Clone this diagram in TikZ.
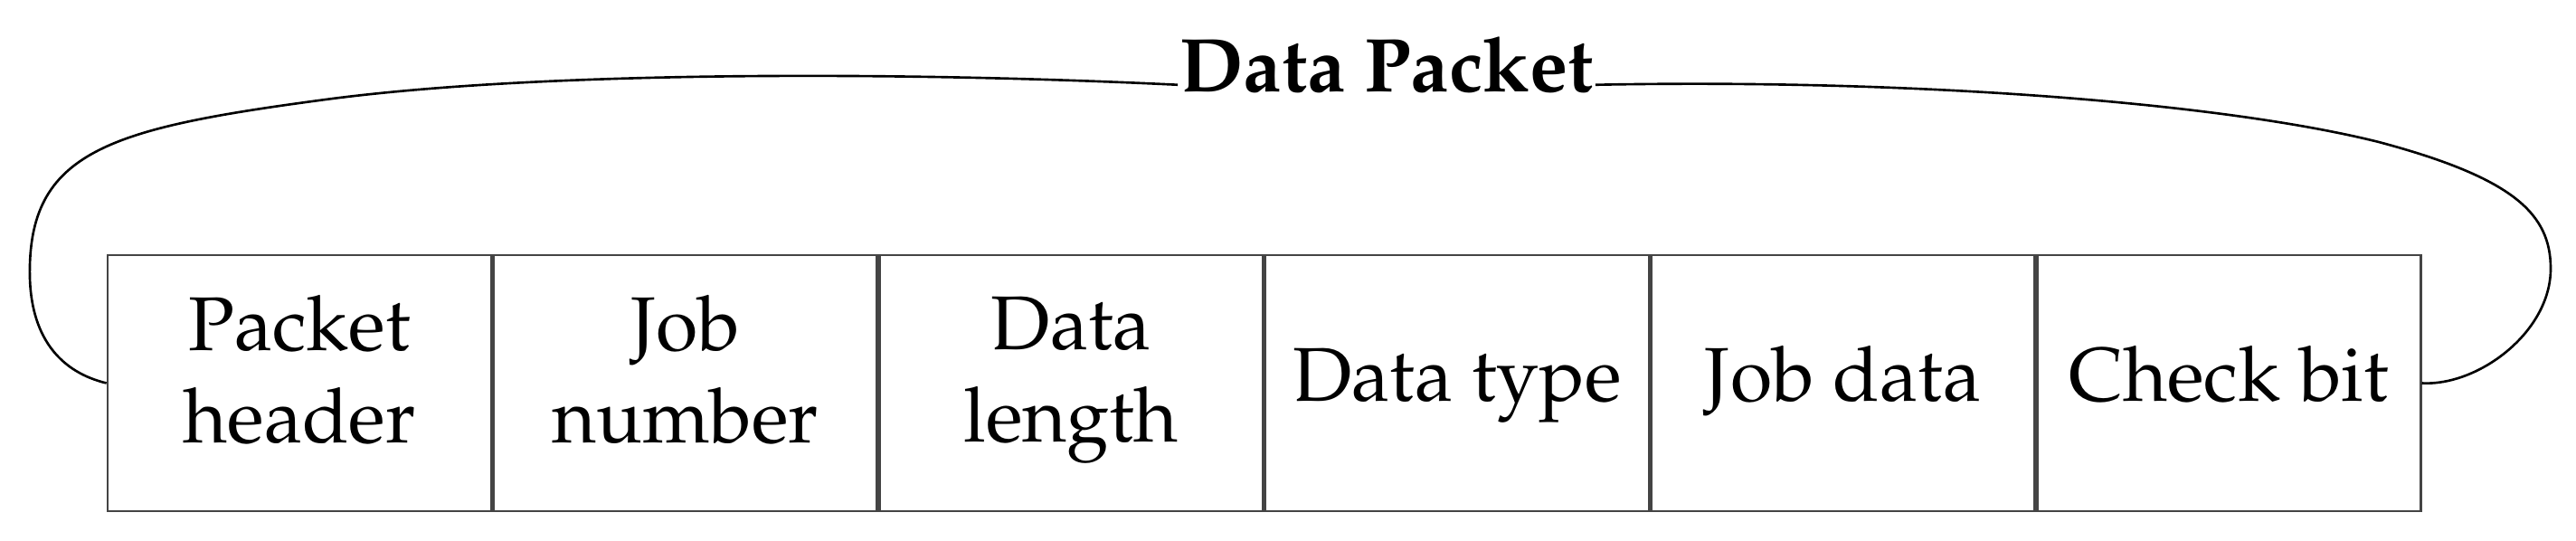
\documentclass[tikz,border=0pt]{standalone}
\usepackage[T1]{fontenc}
\usepackage{mathpazo}
\usetikzlibrary{positioning}

\definecolor{cellgray}{HTML}{444444}

\tikzset{
  field/.style={draw=cellgray, line width=0.75pt, minimum width=4.24cm, minimum height=2.83cm,
    align=center, inner sep=0pt, font=\fontsize{24}{29}\selectfont,
    execute at begin node=\strut, execute at end node=\strut},
  wrapline/.style={line width=0.75pt}
}

\begin{document}
\begin{tikzpicture}
\useasboundingbox (0,0) rectangle (28.48,5.97);

% Fields of the packet
\node[field] (head) at (3.31,1.735) {Packet\\header};
\node[field, right=0pt of head] (jobno) {Job\\number};
\node[field, right=0pt of jobno] (len) {Data\\length};
\node[field, right=0pt of len] (type) {Data type};
\node[field, right=0pt of type] (jobdata) {Job data};
\node[field, right=0pt of jobdata] (check) {Check bit};

% Title
\node[inner sep=0.5pt, anchor=base, font=\fontsize{24}{29}\selectfont\bfseries] (title) at (15.33,4.95) {Data Packet};

% Line round the fields
\draw[wrapline] (head.west) .. controls (0.7,1.85) and (0.35,2.2) .. (0.33,2.9)
    .. controls (0.3,4.3) and (1.2,4.55) .. (3.6,4.87)
    .. controls (6,5.19) and (10,5.18) .. (title.mid west);
\draw[wrapline] (title.mid east) .. controls (21,5.1) and (24.5,4.85) .. (26.3,4.4)
    .. controls (27.8,4.0) and (28.2,3.6) .. (28.2,3.0)
    .. controls (28.2,2.3) and (27.4,1.7) .. (check.east);

\end{tikzpicture}
\end{document}
